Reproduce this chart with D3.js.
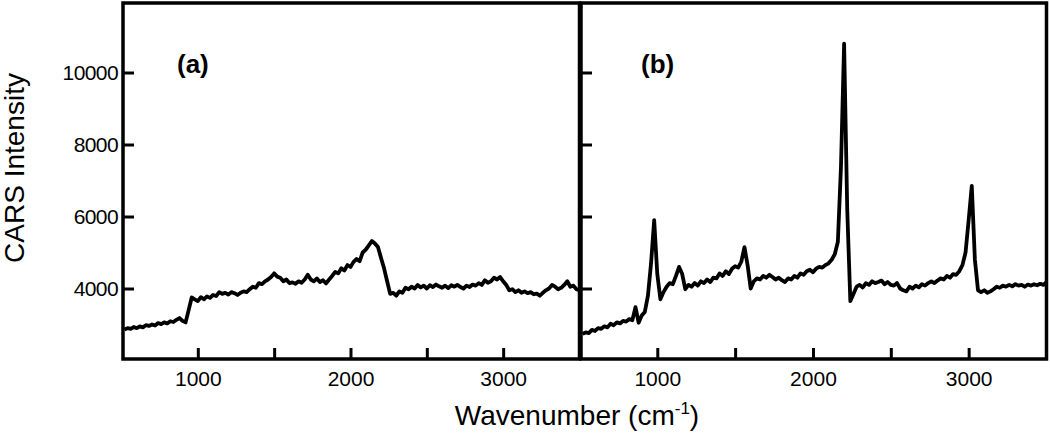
<!DOCTYPE html>
<html>
<head>
<meta charset="utf-8">
<script src="https://cdn.jsdelivr.net/npm/d3@7"></script>
<style>
  html, body { margin: 0; padding: 0; background: #fff; }
  svg { display: block; }
  text { font-family: "Liberation Sans", Arial, sans-serif; fill: #000; }
</style>
</head>
<body>
<svg id="chart" width="1050" height="436"></svg>
<script>
// ---------------- data ----------------
const wavenumbers = d3.range(520, 3501, 20); // 520 .. 3500 cm-1, sampling grid of the spectra

const intensityA = [
  2860, 2900, 2880, 2930, 2900,  2950, 2920, 2980, 2960, 3000,
  2970, 3040, 3010, 3060, 3030,  3090, 3070, 3130, 3180, 3100,
  3060, 3400, 3750, 3700, 3650,  3760, 3700, 3780, 3740, 3820,
  3790, 3900, 3850, 3880, 3830,  3900, 3870, 3820, 3880, 3920,
  3900, 3980, 4050, 4020, 4150,  4120, 4200, 4250, 4320, 4420,
  4330, 4300, 4200, 4250, 4150,  4170, 4130, 4200, 4160, 4250,
  4380, 4250, 4200, 4280, 4180,  4230, 4140, 4250, 4350, 4460,
  4420, 4560, 4500, 4650, 4600,  4740, 4820, 4760, 5000, 5080,
  5200, 5320, 5250, 5150, 4850,  4560, 4200, 3850, 3880, 3800,
  3920, 3880, 4020, 3980, 4050,  4000, 4100, 4030, 4080, 4000,
  4090, 4040, 4110, 4060, 4020,  4080, 4010, 4090, 4050, 4100,
  4040, 4000, 4080, 4040, 4110,  4080, 4150, 4100, 4230, 4160,
  4200, 4300, 4250, 4320, 4200,  4100, 3950, 3980, 3900, 3950,
  3880, 3920, 3870, 3900, 3840,  3860, 3800, 3880, 3950, 4000,
  4100, 4050, 3980, 4020, 4100,  4200, 4050, 4080, 3980, 3950
];

const intensityB = [
  2740, 2780, 2760, 2850, 2820,  2900, 2880, 2950, 2920, 3020,
  2980, 3060, 3030, 3100, 3080,  3150, 3120, 3480, 3050, 3250,
  3350, 3800, 4700, 5900, 4400,  3700, 3900, 4050, 4150, 4120,
  4350, 4600, 4400, 3980, 4100,  4050, 4150, 4080, 4200, 4150,
  4250, 4180, 4300, 4280, 4420,  4350, 4480, 4400, 4550, 4620,
  4580, 4750, 5150, 4650, 4000,  4200, 4280, 4250, 4350, 4300,
  4380, 4320, 4250, 4300, 4230,  4180, 4280, 4250, 4350, 4300,
  4420, 4380, 4480, 4520, 4450,  4550, 4600, 4580, 4650, 4700,
  4800, 4950, 5300, 7400, 10800, 6200, 3650, 3850, 4050, 4100,
  4030, 4150, 4100, 4200, 4150,  4180, 4220, 4120, 4180, 4100,
  4080, 4150, 4000, 3950, 3920,  4050, 4000, 4080, 4030, 4120,
  4080, 4150, 4200, 4150, 4220,  4280, 4250, 4350, 4300, 4400,
  4380, 4480, 4650, 5000, 5900,  6850, 4800, 3950, 3900, 3950,
  3880, 3920, 3980, 4050, 4020,  4080, 4050, 4100, 4060, 4120,
  4080, 4100, 4050, 4110, 4080,  4120, 4090, 4130, 4100, 4180
];

const panelLabels = ["(a)", "(b)"];
const xTickValues = [1000, 1500, 2000, 2500, 3000];
const xTickLabels = ["1000", "", "2000", "", "3000"];
const yTickValues = [4000, 6000, 8000, 10000];
const yTickLabels = ["4000", "6000", "8000", "10000"];
const xDomain = [510, 3500];
const yAxisTitle = "CARS Intensity";
const xAxisTitle = "Wavenumber (cm";
const xAxisSup = "-1";

// ---------------- layout ----------------
const svg = d3.select("#chart");
const plotTop = 3, plotBottom = 359;
const y = d3.scaleLinear().domain([4000, 10000]).range([288.5, 72.5]);

const panels = [
  { left: 123, right: 579.5, values: intensityA, label: panelLabels[0], showY: true, labelX: 177 },
  { left: 581, right: 1046.5, values: intensityB, label: panelLabels[1], showY: false, labelX: 641 }
];

const defs = svg.append("defs");

panels.forEach((p, i) => {
  const x = d3.scaleLinear().domain(xDomain).range([p.left, p.right]);
  const g = svg.append("g");

  defs.append("clipPath").attr("id", "clip" + i)
    .append("rect").attr("x", p.left).attr("y", plotTop).attr("width", p.right - p.left).attr("height", plotBottom - plotTop);

  // spectrum
  const pts = wavenumbers.map((w, k) => [w, p.values[k]]);
  g.append("path")
    .datum(pts)
    .attr("clip-path", "url(#clip" + i + ")")
    .attr("fill", "none")
    .attr("stroke", "#000")
    .attr("stroke-width", 3.8)
    .attr("stroke-linejoin", "round")
    .attr("d", d3.line().x(d => x(d[0])).y(d => y(d[1])));

  // x axis (inward ticks)
  const xa = d3.axisBottom(x)
    .tickValues(xTickValues)
    .tickFormat((d, k) => xTickLabels[k])
    .tickSize(-11).tickPadding(12).tickSizeOuter(0);
  const gx = g.append("g").attr("transform", `translate(0,${plotBottom})`).call(xa);
  gx.select(".domain").remove();
  gx.selectAll(".tick line").attr("stroke", "#000").attr("stroke-width", 3);
  gx.selectAll(".tick text").attr("font-size", 21).attr("font-family", "Liberation Sans, Arial, sans-serif");

  // y axis (inward ticks)
  const ya = d3.axisLeft(y)
    .tickValues(yTickValues)
    .tickFormat((d, k) => p.showY ? yTickLabels[k] : "")
    .tickSize(-11).tickPadding(5).tickSizeOuter(0);
  const gy = g.append("g").attr("transform", `translate(${p.left},0)`).call(ya);
  gy.select(".domain").remove();
  gy.selectAll(".tick line").attr("stroke", "#000").attr("stroke-width", 3);
  gy.selectAll(".tick text").attr("font-size", 21).attr("font-family", "Liberation Sans, Arial, sans-serif")
    .attr("letter-spacing", -0.6);

  // frame
  g.append("rect")
    .attr("x", p.left).attr("y", plotTop)
    .attr("width", p.right - p.left).attr("height", plotBottom - plotTop)
    .attr("fill", "none").attr("stroke", "#000").attr("stroke-width", 3.5);

  // panel label
  g.append("text")
    .attr("x", p.labelX).attr("y", 73)
    .attr("font-size", 26).attr("font-weight", "bold")
    .text(p.label);
});

// axis titles
svg.append("text")
  .attr("transform", "translate(24,168) rotate(-90)")
  .attr("text-anchor", "middle")
  .attr("font-size", 28)
  .text(yAxisTitle);

const xt = svg.append("text")
  .attr("x", 577).attr("y", 425)
  .attr("text-anchor", "middle")
  .attr("font-size", 28);
xt.append("tspan").text(xAxisTitle);
xt.append("tspan").attr("font-size", 17).attr("dy", -11).text(xAxisSup);
xt.append("tspan").attr("dy", 11).text(")");
</script>
</body>
</html>
